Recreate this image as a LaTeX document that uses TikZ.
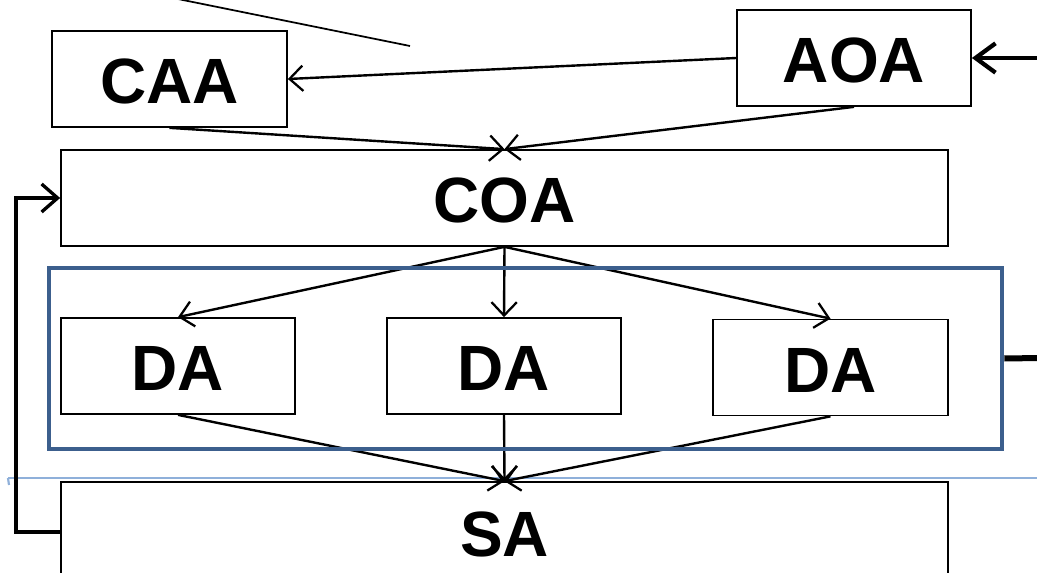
\documentclass[tikz,border=0pt]{standalone}
\usepackage{fontspec}
\setmainfont{Liberation Sans}
\usetikzlibrary{arrows.meta}
\definecolor{frameblue}{HTML}{3C5F8D}
\definecolor{faintblue}{HTML}{8FB0DA}
\begin{document}
\begin{tikzpicture}[x=0.75pt,y=-0.75pt,
  box/.style={draw=black,line width=1.3pt,fill=white,inner sep=0pt,
    font=\fontsize{48}{50}\selectfont\bfseries,minimum height=72pt,
    text height=37pt,text depth=0pt},
  conn/.style={draw=black,line width=1.8pt,-{Straight Barb[length=10pt,width=19pt,line width=1.7pt]}},
  plainln/.style={draw=black,line width=1.3pt},
  fb/.style={draw=black,line width=2.6pt,-{Straight Barb[length=12pt,width=21pt,line width=2.5pt]}},
  bigin/.style={draw=black,line width=3.2pt,-{Straight Barb[length=15pt,width=22pt,line width=3.2pt]}},
  frame/.style={draw=frameblue,line width=3.4pt,inner sep=0pt,minimum width=714.75pt,minimum height=135.75pt},
  faint/.style={draw=faintblue,line width=0.8pt}]
\useasboundingbox (0,0) rectangle (1037,573);
\fill[white] (0,0) rectangle (1037,573);

% boxes
\node[box,minimum width=176.25pt] (CAA) at (169.5,79) {CAA};
\node[box,minimum width=175.5pt] (AOA) at (854,58) {AOA};
\node[box,minimum width=665.25pt] (COA) at (504.5,198) {COA};
\node[box,minimum width=175.5pt] (DA1) at (178,366) {DA};
\node[box,minimum width=175.5pt] (DA2) at (504,366) {DA};
\node[box,minimum width=176.25pt] (DA3) at (830.5,367.5) {DA};
\node[box,minimum width=665.25pt,minimum height=75pt] (SA) at (504.5,532) {SA};

% free ends
\coordinate (tl1) at (173,-2);
\coordinate (tl2) at (410,46);
\coordinate (rin) at (1040,58);
\coordinate (rout) at (1040,358);
\coordinate (fbc) at (16,0);
\coordinate (fl1) at (8,478);
\coordinate (fl2) at (1037,478);
\coordinate (fl3) at (9,485);

\draw[plainln] (tl1) -- (tl2);
\draw[faint] (fl1) -- (fl2);
\draw[faintblue,line width=1.6pt] (fl1) -- (fl3);

% connectors
\draw[bigin] (rin) -- (AOA.east);
\draw[conn] (AOA.west) -- (CAA.east);
\draw[conn] (CAA.south) -- (COA.north);
\draw[conn] (AOA.south) -- (COA.north);
\draw[conn] (COA.south) -- (DA1.north);
\draw[conn] (COA.south) -- (DA2.north);
\draw[conn] (COA.south) -- (DA3.north);
\draw[conn] (DA1.south) -- (SA.north);
\draw[conn] (DA2.south) -- (SA.north);
\draw[conn] (DA3.south) -- (SA.north);
\draw[fb] (SA.west) -| (fbc |- COA.west) -- (COA.west);

% blue frame
\node[frame] (F) at (525.5,358.5) {};
\draw[black,line width=4.5pt] (F.east) -- (rout);
\end{tikzpicture}
\end{document}
